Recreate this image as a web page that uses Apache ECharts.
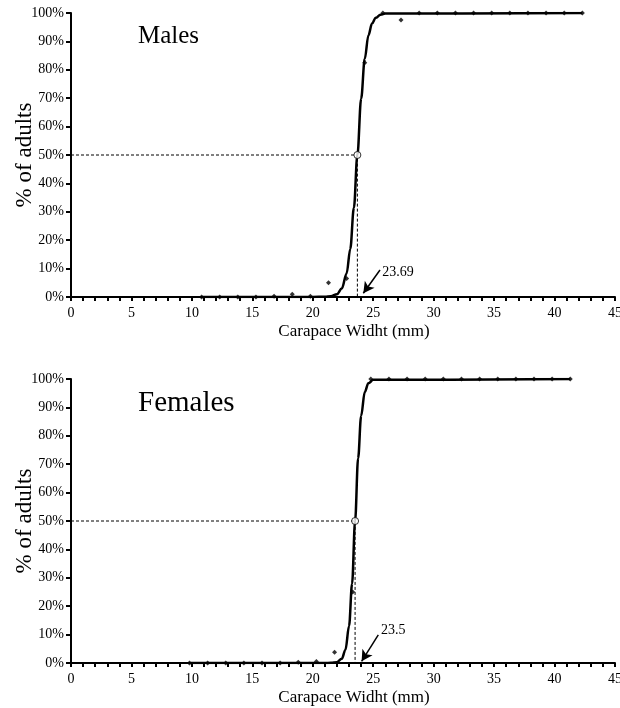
<!DOCTYPE html>
<html><head><meta charset="utf-8">
<script src="https://cdn.jsdelivr.net/npm/echarts@6/dist/echarts.min.js"></script>
<style>html,body{margin:0;padding:0;background:#fff}#c{width:620px;height:708px}</style>
</head><body><div id="c"></div>
<script>
// Observed data (Carapace width mm, % adults)
const maleX = [10.8, 12.3, 13.8, 15.3, 16.8, 18.3, 19.8, 21.3, 22.8, 24.3, 25.8, 27.3, 28.8, 30.3, 31.8, 33.3, 34.8, 36.3, 37.8, 39.3, 40.8, 42.3];
const maleY = [0, 0, 0, 0, 0.3, 1.0, 0.3, 5.0, 6.5, 82.5, 100, 97.5, 100, 100, 100, 100, 100, 100, 100, 100, 100, 100];
const femaleX = [9.8, 11.3, 12.8, 14.3, 15.8, 17.3, 18.8, 20.3, 21.8, 23.3, 24.8, 26.3, 27.8, 29.3, 30.8, 32.3, 33.8, 35.3, 36.8, 38.3, 39.8, 41.3];
const femaleY = [0, 0, 0, 0, 0, 0, 0.3, 0.5, 3.8, 25, 100, 100, 100, 100, 100, 100, 100, 100, 100, 100, 100, 100];
// Fitted curves
const maleCurveX = [10.8, 20, 21, 21.5, 22, 22.4, 22.8, 23.1, 23.4, 23.69, 24.0, 24.3, 24.6, 24.9, 25.2, 25.6, 26.0, 42.3];
const maleCurveY = [0, 0, 0.1, 0.3, 1.0, 3.0, 8.3, 16.9, 31.4, 50, 69.8, 83.9, 92.1, 96.3, 98.3, 99.4, 99.8, 100];
const femaleCurveX = [9.8, 21, 21.5, 22, 22.4, 22.7, 23.0, 23.25, 23.5, 23.75, 24.0, 24.3, 24.6, 25.0, 41.3];
const femaleCurveY = [0, 0, 0.05, 0.3, 1.5, 4.6, 13, 27.9, 50, 72.1, 87, 95.4, 98.5, 99.7, 100];
// L50 values
const maleL50 = 23.69;
const femaleL50 = 23.5;
const panelTitles = ['Males', 'Females'];
const xName = 'Carapace Widht (mm)';
const yName = '% of adults';

const FONT = '"Liberation Serif", "Times New Roman", serif';
const zip = (xs, ys) => xs.map((x, i) => [x, ys[i]]);

function axesFor(idx) {
  const x = {
    gridIndex: idx, type: 'value', min: 0, max: 45, interval: 5,
    name: xName, nameLocation: 'middle', nameGap: 26, nameMoveOverlap: false,
    nameTextStyle: { fontFamily: FONT, fontSize: 17, color: '#000', padding: [0, 0, 0, 22] },
    axisLine: { lineStyle: { color: '#000', width: 2 } },
    axisTick: { show: true, length: 4, lineStyle: { color: '#000', width: 2 } },
    minorTick: { show: true, splitNumber: 5, length: 4, lineStyle: { color: '#000', width: 2 } },
    axisLabel: { fontFamily: FONT, fontSize: 14, color: '#000', margin: 9 },
    splitLine: { show: false }
  };
  const y = {
    gridIndex: idx, type: 'value', min: 0, max: 100, interval: 10,
    name: yName, nameLocation: 'middle', nameGap: 35, nameMoveOverlap: false,
    nameTextStyle: { fontFamily: FONT, fontSize: 23, color: '#000' },
    axisLine: { show: true, lineStyle: { color: '#000', width: 2 } },
    axisTick: { show: true, length: 5, lineStyle: { color: '#000', width: 2 } },
    axisLabel: { fontFamily: FONT, fontSize: 14, color: '#000', margin: 7, formatter: v => v + '%' },
    splitLine: { show: false }
  };
  return [x, y];
}

function seriesFor(idx, px, py, cx, cy, l50, arrow, txt) {
  return [
    { type: 'line', xAxisIndex: idx, yAxisIndex: idx, data: [[0, 50], [l50, 50], [l50, 0]],
      symbol: 'none', silent: true, z: 1,
      lineStyle: { color: '#000', width: 1, type: [3, 2] } },
    { type: 'line', xAxisIndex: idx, yAxisIndex: idx, data: zip(cx, cy),
      symbol: 'none', smooth: 0.35, smoothMonotone: 'x', z: 2,
      lineStyle: { color: '#000', width: 2.5 },
      markLine: { silent: true, symbol: ['none', 'arrow'], symbolSize: [9, 11],
        lineStyle: { color: '#000', width: 1.5, type: 'solid' }, label: { show: false },
        data: [[{ coord: arrow[0] }, { coord: arrow[1] }]] },
      markPoint: { silent: true, symbol: 'circle', symbolSize: 1,
        itemStyle: { color: 'rgba(0,0,0,0)' },
        label: { show: true, position: 'right', distance: 0, fontFamily: FONT, fontSize: 14, color: '#000', formatter: String(l50) },
        data: [{ coord: txt }] } },
    { type: 'scatter', xAxisIndex: idx, yAxisIndex: idx, data: zip(px, py),
      symbol: 'diamond', symbolSize: 5, itemStyle: { color: '#000' }, z: 3 },
    { type: 'scatter', xAxisIndex: idx, yAxisIndex: idx, data: [[l50, 50]],
      symbol: 'circle', symbolSize: 7, itemStyle: { color: '#fff', borderColor: '#000', borderWidth: 1 }, z: 4 }
  ];
}

const ax0 = axesFor(0), ax1 = axesFor(1);
const option = {
  animation: false,
  backgroundColor: '#fff',
  grid: [
    { left: 71, right: 5, top: 13, height: 284, containLabel: false, outerBoundsMode: 'none' },
    { left: 71, right: 5, top: 379, height: 284, containLabel: false, outerBoundsMode: 'none' }
  ],
  xAxis: [ax0[0], ax1[0]],
  yAxis: [ax0[1], ax1[1]],
  graphic: [
    { type: 'text', left: 138, top: 24, style: { text: panelTitles[0], font: '25px ' + FONT, fill: '#000' } },
    { type: 'text', left: 138, top: 389, style: { text: panelTitles[1], font: '29px ' + FONT, fill: '#000' } }
  ],
  series: [
    ...seriesFor(0, maleX, maleY, maleCurveX, maleCurveY, maleL50, [[25.56, 9.5], [24.18, 1.3]], [25.7, 8.8]),
    ...seriesFor(1, femaleX, femaleY, femaleCurveX, femaleCurveY, femaleL50, [[25.42, 9.9], [24.04, 0.6]], [25.6, 11.6])
  ]
};
echarts.init(document.getElementById('c')).setOption(option);
</script></body></html>
